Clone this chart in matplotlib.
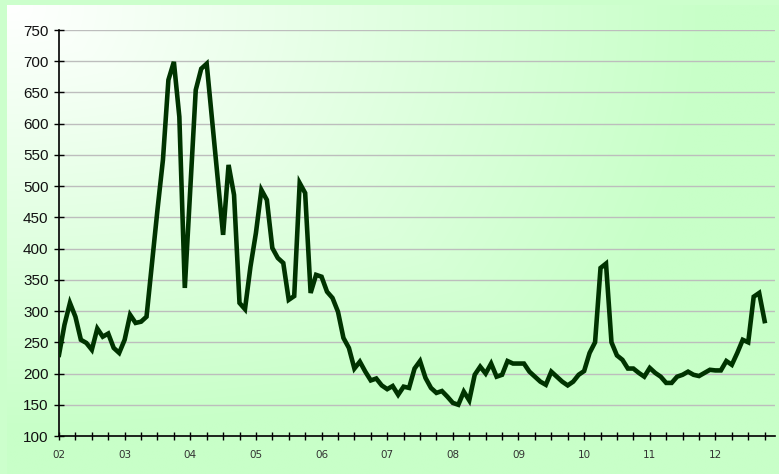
import numpy as np
import matplotlib
matplotlib.use("Agg")
import matplotlib.pyplot as plt

# ---- data (monthly, Jan 2002 .. Oct 2012) ----
v2002 = [230, 278, 313, 291, 254, 249, 238, 272, 259, 264, 241, 233]
v2003 = [254, 294, 281, 283, 291, 377, 462, 542, 670, 699, 611, 337]
v2004 = [495, 654, 688, 696, 605, 513, 422, 534, 486, 313, 303, 371]
v2005 = [425, 494, 478, 401, 385, 377, 318, 324, 505, 489, 329, 358]
v2006 = [355, 331, 321, 299, 257, 241, 208, 219, 203, 189, 192, 181]
v2007 = [175, 180, 166, 179, 177, 208, 220, 193, 177, 169, 172, 163]
v2008 = [153, 150, 171, 157, 198, 211, 200, 216, 195, 198, 220, 216]
v2009 = [216, 216, 203, 195, 187, 182, 203, 195, 187, 181, 187, 198]
v2010 = [204, 233, 250, 369, 376, 250, 229, 222, 208, 208, 201, 195]
v2011 = [209, 201, 195, 185, 185, 195, 198, 203, 198, 196, 201, 206]
v2012 = [205, 205, 220, 214, 233, 254, 250, 323, 329, 284]
year_labels = ["02", "03", "04", "05", "06", "07", "08", "09", "10", "11", "12"]
y_ticks = [100, 150, 200, 250, 300, 350, 400, 450, 500, 550, 600, 650, 700, 750]

values = v2002 + v2003 + v2004 + v2005 + v2006 + v2007 + v2008 + v2009 + v2010 + v2011 + v2012
x = np.arange(len(values))

W, H = 779, 474
fig = plt.figure(figsize=(W / 100, H / 100), dpi=100)
fig.patch.set_facecolor("#CCFFCC")

# ---- gradient panel ----
bg = fig.add_axes([7 / W, 0, (W - 7) / W, (H - 5) / H], zorder=0)
nx, ny = 400, 250
u = np.linspace(0, 1, nx)[None, :]
w = np.linspace(0, 1, ny)[:, None]
t = np.clip((np.maximum(u, w) * 0.5 + np.sqrt(u ** 2 + w ** 2) * 0.5) * 1.1, 0, 1)
c0 = np.array([1.0, 1.0, 1.0])
c1 = np.array([0xC8, 0xFF, 0xC8]) / 255.0
img = c0[None, None, :] * (1 - t[..., None]) + c1[None, None, :] * t[..., None]
bg.imshow(img, extent=[0, 1, 0, 1], origin="upper", aspect="auto", interpolation="bilinear")
bg.set_axis_off()

# ---- main axes ----
left, right, top, bottom = 59, 775, 30, 436
ax = fig.add_axes([left / W, (H - bottom) / H, (right - left) / W, (bottom - top) / H], zorder=1)
ax.patch.set_alpha(0)
ax.plot(x, values, color="#003300", linewidth=3.3, solid_joinstyle="miter", zorder=3)

ax.set_ylim(100, 750)
ax.set_xlim(0, (right - left) / 5.47)
ax.set_yticks(y_ticks)
ax.set_yticklabels([str(v) for v in y_ticks], fontsize=11, family="Liberation Sans", color="#111111")
ax.yaxis.grid(True, color="#bdbdbd", linewidth=1.0, zorder=1)
ax.set_axisbelow(True)

xt = list(range(0, len(values), 3))
ax.set_xticks(xt)
labs = []
for p in xt:
    if p % 12 == 0 and p // 12 < len(year_labels):
        labs.append(year_labels[p // 12])
    else:
        labs.append("")
ax.set_xticklabels(labs, fontsize=7.5, family="Liberation Sans Narrow", color="#333333")

ax.tick_params(axis="y", direction="inout", length=7, width=1, pad=4, color="black")
ax.tick_params(axis="x", direction="inout", length=6, width=1, pad=7, color="black")

for s in ["top", "right"]:
    ax.spines[s].set_visible(False)
for s in ["left", "bottom"]:
    ax.spines[s].set_color("black")
    ax.spines[s].set_linewidth(1.2)

fig.savefig("out.png", dpi=100, facecolor=fig.get_facecolor())
